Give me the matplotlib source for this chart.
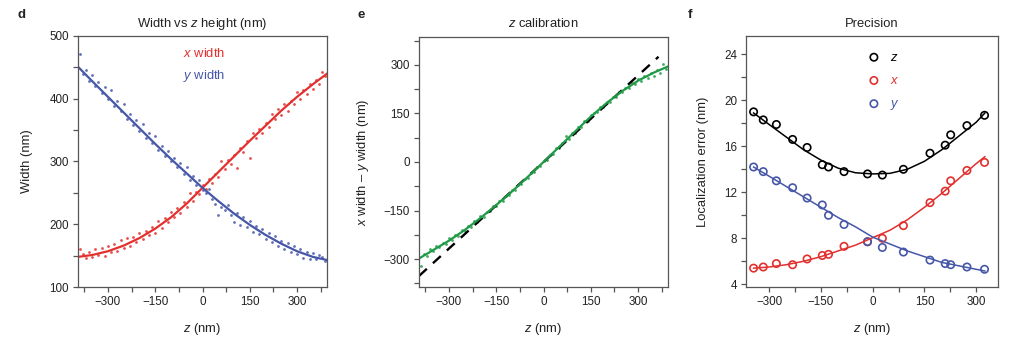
import matplotlib
matplotlib.use("Agg")
from matplotlib import pyplot as plt
from matplotlib.ticker import MultipleLocator

plt.rcParams['font.family'] = ['Liberation Sans', 'DejaVu Sans']
plt.rcParams['mathtext.fontset'] = 'custom'
plt.rcParams['mathtext.rm'] = 'Liberation Sans'
plt.rcParams['mathtext.it'] = 'Liberation Sans:italic'
plt.rcParams['font.size'] = 9.4
plt.rcParams['axes.titlesize'] = 9.4

RED = '#e2302e'
BLUE = '#4657a8'
GREEN = '#1f9a47'
INK = '#222222'
SPINE = '#555555'
TICK_SIZE = 8.4

# bead scan: z positions (nm)
z_scan = [-390, -380, -370, -360, -350, -340, -330, -320, -310, -300,
          -290, -280, -270, -260, -250, -240, -230, -220, -210, -200,
          -190, -180, -170, -160, -150, -140, -130, -120, -110, -100,
          -90, -80, -70, -60, -50, -40, -30, -20, -10, 0,
          10, 20, 30, 40, 50, 60, 70, 80, 90, 100,
          110, 120, 130, 140, 150, 160, 170, 180, 190, 200,
          210, 220, 230, 240, 250, 260, 270, 280, 290, 300,
          310, 320, 330, 340, 350, 360, 370, 380, 390]

x_width = [160, 152, 147, 156, 148, 160, 151, 162, 150, 165,
           155, 168, 158, 175, 162, 178, 166, 180, 172, 186,
           176, 190, 183, 196, 186, 205, 194, 210, 203, 219,
           212, 226, 218, 235, 228, 250, 237, 252, 249, 262,
           256, 272, 266, 280, 276, 301, 288, 303, 296, 310,
           289, 322, 315, 333, 306, 345, 337, 352, 345, 362,
           355, 375, 368, 383, 374, 391, 380, 397, 392, 410,
           399, 414, 407, 423, 416, 430, 424, 442, 436]

y_width = [472, 440, 446, 428, 438, 420, 426, 409, 418, 400,
           414, 388, 396, 380, 391, 368, 376, 358, 366, 349,
           360, 338, 345, 329, 340, 318, 325, 309, 316, 300,
           306, 291, 297, 280, 292, 271, 277, 262, 270, 255,
           250, 256, 240, 232, 215, 228, 222, 231, 214, 204,
           218, 199, 211, 196, 205, 188, 197, 184, 192, 176,
           186, 172, 181, 166, 174, 160, 170, 155, 165, 152,
           160, 146, 156, 145, 154, 144, 151, 148, 141]

width_diff = [-322, -284, -290, -270, -276, -259, -264, -250, -253, -236,
              -241, -226, -228, -210, -214, -199, -200, -182, -185, -168,
              -170, -153, -152, -137, -136, -121, -119, -104, -103, -88,
              -85, -70, -67, -52, -49, -33, -31, -15, -12, 3,
              6, 23, 25, 42, 44, 60, 80, 72, 89, 91,
              107, 109, 126, 128, 145, 152, 153, 169, 171, 186,
              185, 201, 200, 216, 215, 229, 227, 243, 240, 256,
              250, 266, 259, 276, 266, 285, 276, 302, 286]

# fitted curves
z_fit = [-395, -350, -300, -250, -200, -150, -100, -50, 0,
         50, 100, 150, 200, 250, 300, 350, 395]
x_width_fit = [148, 151, 157, 166, 178, 193, 211, 233, 258,
               283, 308, 333, 357, 381, 403, 423, 440]
y_width_fit = [451, 428, 403, 378, 353, 328, 304, 281, 258,
               237, 217, 199, 183, 169, 157, 148, 143]
diff_fit = [-298, -272, -243, -210, -173, -133, -91, -46, 0,
            47, 94, 140, 182, 219, 251, 276, 295]

# linear calibration reference
calib_z = [-395, 365]
calib_val = [-352, 325]

# localization precision
z_prec = [-345, -317, -279, -232, -190, -146, -128, -83, -15,
          28, 89, 166, 210, 226, 273, 324]
err_z = [19.0, 18.3, 17.9, 16.6, 15.9, 14.4, 14.2, 13.8, 13.6,
         13.5, 14.0, 15.4, 16.1, 17.0, 17.8, 18.7]
err_x = [5.4, 5.5, 5.8, 5.7, 6.2, 6.5, 6.6, 7.3, 7.7,
         8.0, 9.1, 11.1, 12.1, 13.0, 13.9, 14.6]
err_y = [14.2, 13.8, 13.0, 12.4, 11.5, 10.9, 10.0, 9.2, 7.7,
         7.2, 6.8, 6.1, 5.8, 5.7, 5.5, 5.3]

z_prec_fit = [-345, -300, -250, -200, -150, -100, -50, 0,
              50, 100, 150, 200, 250, 300, 325]
err_z_fit = [18.9, 17.9, 16.8, 15.7, 14.8, 14.1, 13.7, 13.6,
             13.65, 14.0, 14.7, 15.7, 16.9, 18.1, 18.9]
err_x_fit = [5.4, 5.5, 5.7, 6.0, 6.4, 6.9, 7.4, 8.05,
             8.7, 9.6, 10.7, 11.9, 13.2, 14.5, 15.1]
err_y_fit = [14.2, 13.4, 12.5, 11.6, 10.7, 9.8, 9.0, 8.1,
             7.5, 6.9, 6.4, 5.9, 5.6, 5.3, 5.15]


def style_axes(ax):
    for side in ax.spines.values():
        side.set_color(SPINE)
        side.set_linewidth(0.9)
    ax.tick_params(which='both', direction='out', color=SPINE, width=0.9,
                   labelcolor=INK, pad=3, length=3.5, labelsize=TICK_SIZE)


fig = plt.figure(figsize=(10.24, 3.47), dpi=100)
ax_d = fig.add_axes([78 / 1024, 60 / 347, 249 / 1024, 251 / 347])
ax_e = fig.add_axes([419 / 1024, 60 / 347, 249 / 1024, 250 / 347])
ax_f = fig.add_axes([746 / 1024, 60 / 347, 252 / 1024, 251 / 347])

# width vs z
ax_d.scatter(z_scan, x_width, s=4, color=RED, alpha=0.85, lw=0)
ax_d.scatter(z_scan, y_width, s=4, color=BLUE, alpha=0.85, lw=0)
ax_d.plot(z_fit, x_width_fit, color=RED, lw=1.6)
ax_d.plot(z_fit, y_width_fit, color=BLUE, lw=1.6)
ax_d.set_xlim(-395, 395)
ax_d.set_ylim(100, 500)
ax_d.xaxis.set_major_locator(MultipleLocator(150))
ax_d.xaxis.set_minor_locator(MultipleLocator(75))
ax_d.yaxis.set_major_locator(MultipleLocator(100))
ax_d.yaxis.set_minor_locator(MultipleLocator(50))
ax_d.set_title('Width vs $z$ height (nm)', color=INK, pad=6.5)
ax_d.set_xlabel('$z$ (nm)', color=INK, labelpad=9)
ax_d.set_ylabel('Width (nm)', color=INK, labelpad=12)
ax_d.text(0.42, 0.93, '$x$ width', color=RED, transform=ax_d.transAxes,
          va='center')
ax_d.text(0.42, 0.84, '$y$ width', color=BLUE, transform=ax_d.transAxes,
          va='center')
style_axes(ax_d)

# z calibration
ax_e.plot(calib_z, calib_val, color='black', lw=1.7, ls=(0, (4.5, 3.5)))
ax_e.scatter(z_scan, width_diff, s=4, color=GREEN, alpha=0.85, lw=0)
ax_e.plot(z_fit, diff_fit, color=GREEN, lw=1.6)
ax_e.set_xlim(-395, 395)
ax_e.set_ylim(-386, 386)
ax_e.xaxis.set_major_locator(MultipleLocator(150))
ax_e.xaxis.set_minor_locator(MultipleLocator(75))
ax_e.yaxis.set_major_locator(MultipleLocator(150))
ax_e.yaxis.set_minor_locator(MultipleLocator(75))
ax_e.set_title('$z$ calibration', color=INK, pad=7.5)
ax_e.set_xlabel('$z$ (nm)', color=INK, labelpad=9)
ax_e.set_ylabel('$x$ width \u2013 $y$ width (nm)', color=INK, labelpad=9)
style_axes(ax_e)

# precision
hz = ax_f.scatter(z_prec, err_z, s=28, facecolors='none', edgecolors='black',
                  linewidths=1.2)
hx = ax_f.scatter(z_prec, err_x, s=28, facecolors='none', edgecolors=RED,
                  linewidths=1.2)
hy = ax_f.scatter(z_prec, err_y, s=28, facecolors='none', edgecolors=BLUE,
                  linewidths=1.2)
ax_f.plot(z_prec_fit, err_z_fit, color='black', lw=1.1)
ax_f.plot(z_prec_fit, err_x_fit, color=RED, lw=1.1)
ax_f.plot(z_prec_fit, err_y_fit, color=BLUE, lw=1.1)
ax_f.set_xlim(-367, 363)
ax_f.set_ylim(3.76, 25.6)
ax_f.xaxis.set_major_locator(MultipleLocator(150))
ax_f.xaxis.set_minor_locator(MultipleLocator(75))
ax_f.yaxis.set_major_locator(MultipleLocator(4))
ax_f.yaxis.set_minor_locator(MultipleLocator(2))
ax_f.set_title('Precision', color=INK, pad=6.5)
ax_f.set_xlabel('$z$ (nm)', color=INK, labelpad=9)
ax_f.set_ylabel('Localization error (nm)', color=INK, labelpad=11)
ax_f.legend([hz, hx, hy], ['$z$', '$x$', '$y$'], loc='upper left',
            bbox_to_anchor=(0.435, 0.985), frameon=False, handlelength=1.0,
            handletextpad=0.7, labelspacing=0.85,
            labelcolor=['black', RED, BLUE])
style_axes(ax_f)

for x, letter in [(17, 'd'), (358, 'e'), (688, 'f')]:
    fig.text(x / 1024, 1 - 9 / 347, letter, fontsize=9.5, fontweight='bold',
             va='top', color=INK)

fig.savefig('out.png', dpi=100)
